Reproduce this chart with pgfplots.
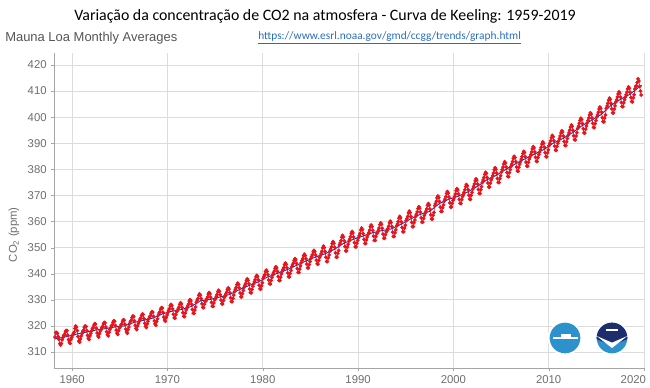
\documentclass[border=0pt]{standalone}
\usepackage{pgfplots}
\pgfplotsset{compat=1.18}
\usepackage{fontspec}
\setmainfont{Liberation Sans}
\newfontfamily\cali{Carlito}
\definecolor{ticktext}{RGB}{110,110,110}
\definecolor{gridc}{RGB}{220,220,220}
\definecolor{axisc}{RGB}{165,165,165}
\definecolor{dotred}{RGB}{230,20,28}
\definecolor{trendblue}{RGB}{45,40,165}
\definecolor{urlblue}{RGB}{40,110,190}
\definecolor{logoblue}{RGB}{45,145,205}
\definecolor{logonavy}{RGB}{30,45,110}
\begin{document}
\begin{tikzpicture}
\useasboundingbox (-40.5pt,-15pt) rectangle (447pt,276pt);
\begin{axis}[
  at={(0,0)}, anchor=south west,
  scale only axis, width=442.5pt, height=236.25pt,
  xmin=1958.1, xmax=2020, ymin=303.9, ymax=424.6,
  xtick={1960,1970,1980,1990,2000,2010},
  extra x ticks={2020},
  extra x tick style={xticklabel style={anchor=north east, xshift=5pt}},
  ytick={310,320,...,420},
  xticklabel style={/pgf/number format/1000 sep={}},
  /pgf/number format/assume math mode=true,
  ticklabel style={font=\fontsize{8.5}{10}\selectfont, text=ticktext},
  axis x line*=bottom, axis y line*=left,
  axis line style={axisc, line width=0.7pt, -},
  major tick length=2pt, tick style={axisc},
  tick align=outside,
  xtick pos=bottom, ytick pos=left,
  grid=major, major grid style={gridc, line width=0.6pt},
  clip=false,
]
\addplot[dotred, line width=0.5pt, mark=*, mark size=1.15pt, mark options={fill=dotred, draw=dotred}]
  table[row sep=\\, x expr={1958+(\coordindex+2.5)/12}, y=y] {
y\\
315.7\\ 317.5\\ 317.5\\ 317.1\\ 315.9\\ 314.9\\ 313.2\\ 312.7\\ 313.3\\ 314.7\\
315.6\\ 316.4\\ 316.7\\ 317.7\\ 318.3\\ 318.2\\ 316.5\\ 314.8\\ 313.8\\ 313.3\\ 314.8\\ 315.6\\
316.4\\ 317.0\\ 317.6\\ 319.0\\ 320.0\\ 319.6\\ 318.2\\ 315.9\\ 314.2\\ 313.8\\ 315.0\\ 316.2\\
317.2\\ 318.0\\ 318.4\\ 319.4\\ 320.0\\ 319.8\\ 318.2\\ 316.4\\ 315.3\\ 314.8\\ 316.2\\ 317.2\\
318.1\\ 318.9\\ 319.3\\ 320.3\\ 320.9\\ 320.7\\ 319.1\\ 317.3\\ 316.2\\ 315.7\\ 317.1\\ 318.1\\
318.6\\ 319.4\\ 319.8\\ 320.8\\ 321.4\\ 321.2\\ 319.6\\ 317.8\\ 316.7\\ 316.2\\ 317.6\\ 318.6\\
319.2\\ 320.0\\ 320.4\\ 321.4\\ 322.0\\ 321.8\\ 320.2\\ 318.4\\ 317.3\\ 316.8\\ 318.2\\ 319.2\\
319.6\\ 320.4\\ 320.8\\ 321.8\\ 322.4\\ 322.2\\ 320.6\\ 318.8\\ 317.7\\ 317.2\\ 318.6\\ 319.6\\
321.0\\ 321.8\\ 322.2\\ 323.2\\ 323.8\\ 323.6\\ 322.0\\ 320.2\\ 319.1\\ 318.6\\ 320.0\\ 321.0\\
321.8\\ 322.6\\ 323.0\\ 324.0\\ 324.6\\ 324.4\\ 322.8\\ 321.0\\ 319.9\\ 319.4\\ 320.8\\ 321.8\\
322.7\\ 323.5\\ 323.9\\ 324.9\\ 325.5\\ 325.3\\ 323.7\\ 321.9\\ 320.8\\ 320.3\\ 321.7\\ 322.7\\
324.2\\ 325.0\\ 325.4\\ 326.4\\ 327.0\\ 326.8\\ 325.2\\ 323.4\\ 322.3\\ 321.8\\ 323.2\\ 324.2\\
325.1\\ 325.9\\ 326.6\\ 327.7\\ 328.3\\ 327.8\\ 326.5\\ 324.5\\ 323.1\\ 323.0\\ 324.3\\ 325.5\\
325.7\\ 326.5\\ 327.2\\ 328.3\\ 328.9\\ 328.4\\ 327.1\\ 325.1\\ 323.7\\ 323.6\\ 324.9\\ 326.1\\
326.9\\ 327.7\\ 328.4\\ 329.5\\ 330.1\\ 329.6\\ 328.3\\ 326.3\\ 324.9\\ 324.8\\ 326.1\\ 327.3\\
329.1\\ 329.9\\ 330.6\\ 331.7\\ 332.3\\ 331.8\\ 330.5\\ 328.5\\ 327.1\\ 327.0\\ 328.3\\ 329.5\\
329.6\\ 330.4\\ 331.1\\ 332.2\\ 332.8\\ 332.3\\ 331.0\\ 329.0\\ 327.6\\ 327.5\\ 328.8\\ 330.0\\
330.5\\ 331.3\\ 332.0\\ 333.1\\ 333.7\\ 333.2\\ 331.9\\ 329.9\\ 328.5\\ 328.4\\ 329.7\\ 330.9\\
331.4\\ 332.2\\ 332.9\\ 334.0\\ 334.6\\ 334.1\\ 332.8\\ 330.8\\ 329.4\\ 329.3\\ 330.6\\ 331.8\\
333.2\\ 334.0\\ 334.7\\ 335.8\\ 336.4\\ 335.9\\ 334.6\\ 332.6\\ 331.2\\ 331.1\\ 332.4\\ 333.6\\
334.8\\ 335.6\\ 336.3\\ 337.4\\ 338.0\\ 337.5\\ 336.2\\ 334.2\\ 332.8\\ 332.7\\ 334.0\\ 335.2\\
336.2\\ 337.0\\ 337.7\\ 338.8\\ 339.4\\ 338.9\\ 337.6\\ 335.6\\ 334.2\\ 334.1\\ 335.4\\ 336.6\\
338.2\\ 339.0\\ 339.7\\ 340.8\\ 341.4\\ 340.9\\ 339.6\\ 337.6\\ 336.2\\ 336.1\\ 337.4\\ 338.6\\
339.5\\ 340.3\\ 341.0\\ 342.1\\ 342.7\\ 342.2\\ 340.9\\ 338.9\\ 337.5\\ 337.4\\ 338.7\\ 339.9\\
340.9\\ 341.7\\ 342.4\\ 343.5\\ 344.1\\ 343.6\\ 342.3\\ 340.3\\ 338.9\\ 338.8\\ 340.1\\ 341.3\\
342.6\\ 343.4\\ 344.1\\ 345.2\\ 345.8\\ 345.3\\ 344.0\\ 342.0\\ 340.6\\ 340.5\\ 341.8\\ 343.0\\
344.3\\ 345.1\\ 345.8\\ 346.9\\ 347.5\\ 347.0\\ 345.7\\ 343.7\\ 342.3\\ 342.2\\ 343.5\\ 344.7\\
345.8\\ 346.6\\ 347.3\\ 348.4\\ 349.0\\ 348.5\\ 347.2\\ 345.2\\ 343.8\\ 343.7\\ 345.0\\ 346.2\\
346.9\\ 347.7\\ 348.6\\ 349.9\\ 350.6\\ 350.0\\ 348.5\\ 346.3\\ 344.7\\ 344.7\\ 346.1\\ 347.2\\
348.6\\ 349.4\\ 350.3\\ 351.6\\ 352.3\\ 351.7\\ 350.2\\ 348.0\\ 346.4\\ 346.4\\ 347.8\\ 348.9\\
351.0\\ 351.8\\ 352.7\\ 354.0\\ 354.7\\ 354.1\\ 352.6\\ 350.4\\ 348.8\\ 348.8\\ 350.2\\ 351.3\\
352.5\\ 353.3\\ 354.2\\ 355.5\\ 356.2\\ 355.6\\ 354.1\\ 351.9\\ 350.3\\ 350.3\\ 351.7\\ 352.8\\
353.8\\ 354.6\\ 355.5\\ 356.8\\ 357.5\\ 356.9\\ 355.4\\ 353.2\\ 351.6\\ 351.6\\ 353.0\\ 354.1\\
355.0\\ 355.8\\ 356.7\\ 358.0\\ 358.7\\ 358.1\\ 356.6\\ 354.4\\ 352.8\\ 352.8\\ 354.2\\ 355.3\\
355.8\\ 356.6\\ 357.5\\ 358.8\\ 359.5\\ 358.9\\ 357.4\\ 355.2\\ 353.6\\ 353.6\\ 355.0\\ 356.1\\
356.5\\ 357.3\\ 358.2\\ 359.5\\ 360.2\\ 359.6\\ 358.1\\ 355.9\\ 354.3\\ 354.3\\ 355.7\\ 356.8\\
358.3\\ 359.1\\ 360.0\\ 361.3\\ 362.0\\ 361.4\\ 359.9\\ 357.7\\ 356.1\\ 356.1\\ 357.5\\ 358.6\\
360.3\\ 361.1\\ 362.0\\ 363.3\\ 364.0\\ 363.4\\ 361.9\\ 359.7\\ 358.1\\ 358.1\\ 359.5\\ 360.6\\
362.0\\ 362.8\\ 363.7\\ 365.0\\ 365.7\\ 365.1\\ 363.6\\ 361.4\\ 359.8\\ 359.8\\ 361.2\\ 362.3\\
363.2\\ 364.0\\ 364.9\\ 366.2\\ 366.9\\ 366.3\\ 364.8\\ 362.6\\ 361.0\\ 361.0\\ 362.4\\ 363.5\\
366.1\\ 366.9\\ 367.8\\ 369.1\\ 369.8\\ 369.2\\ 367.7\\ 365.5\\ 363.9\\ 363.9\\ 365.3\\ 366.4\\
367.8\\ 368.6\\ 369.5\\ 370.8\\ 371.5\\ 370.9\\ 369.4\\ 367.2\\ 365.6\\ 365.6\\ 367.0\\ 368.1\\
368.7\\ 369.6\\ 370.6\\ 371.8\\ 372.6\\ 372.1\\ 370.6\\ 368.5\\ 367.0\\ 366.9\\ 368.4\\ 369.6\\
370.3\\ 371.2\\ 372.2\\ 373.4\\ 374.2\\ 373.7\\ 372.2\\ 370.1\\ 368.6\\ 368.5\\ 370.0\\ 371.2\\
372.5\\ 373.4\\ 374.4\\ 375.6\\ 376.4\\ 375.9\\ 374.4\\ 372.3\\ 370.8\\ 370.7\\ 372.2\\ 373.4\\
375.0\\ 375.9\\ 376.9\\ 378.1\\ 378.9\\ 378.4\\ 376.9\\ 374.8\\ 373.3\\ 373.2\\ 374.7\\ 375.9\\
376.7\\ 377.6\\ 378.6\\ 379.8\\ 380.6\\ 380.1\\ 378.6\\ 376.5\\ 375.0\\ 374.9\\ 376.4\\ 377.6\\
379.0\\ 379.9\\ 380.9\\ 382.1\\ 382.9\\ 382.4\\ 380.9\\ 378.8\\ 377.3\\ 377.2\\ 378.7\\ 379.9\\
381.1\\ 382.0\\ 383.0\\ 384.2\\ 385.0\\ 384.5\\ 383.0\\ 380.9\\ 379.4\\ 379.3\\ 380.8\\ 382.0\\
383.0\\ 383.9\\ 384.9\\ 386.1\\ 386.9\\ 386.4\\ 384.9\\ 382.8\\ 381.3\\ 381.2\\ 382.7\\ 383.9\\
384.8\\ 385.7\\ 386.7\\ 387.9\\ 388.7\\ 388.2\\ 386.7\\ 384.6\\ 383.1\\ 383.0\\ 384.5\\ 385.7\\
386.6\\ 387.5\\ 388.5\\ 389.7\\ 390.5\\ 390.0\\ 388.5\\ 386.4\\ 384.9\\ 384.8\\ 386.3\\ 387.5\\
389.1\\ 390.0\\ 391.0\\ 392.2\\ 393.0\\ 392.5\\ 391.0\\ 388.9\\ 387.4\\ 387.3\\ 388.8\\ 390.0\\
390.9\\ 391.8\\ 392.8\\ 394.0\\ 394.8\\ 394.3\\ 392.8\\ 390.7\\ 389.2\\ 389.1\\ 390.6\\ 391.8\\
393.1\\ 394.0\\ 395.0\\ 396.2\\ 397.0\\ 396.5\\ 395.0\\ 392.9\\ 391.4\\ 391.3\\ 392.8\\ 394.0\\
395.7\\ 396.6\\ 397.6\\ 398.8\\ 399.6\\ 399.1\\ 397.6\\ 395.5\\ 394.0\\ 393.9\\ 395.4\\ 396.6\\
397.8\\ 398.7\\ 399.7\\ 400.9\\ 401.7\\ 401.2\\ 399.7\\ 397.6\\ 396.1\\ 396.0\\ 397.5\\ 398.7\\
400.0\\ 400.9\\ 401.9\\ 403.1\\ 403.9\\ 403.4\\ 401.9\\ 399.8\\ 398.3\\ 398.2\\ 399.7\\ 400.9\\
403.4\\ 404.3\\ 405.3\\ 406.5\\ 407.3\\ 406.8\\ 405.3\\ 403.2\\ 401.7\\ 401.6\\ 403.1\\ 404.3\\
405.8\\ 406.7\\ 407.7\\ 408.9\\ 409.7\\ 409.2\\ 407.7\\ 405.6\\ 404.1\\ 404.0\\ 405.5\\ 406.7\\
407.7\\ 408.6\\ 409.6\\ 410.8\\ 411.6\\ 411.1\\ 409.6\\ 407.5\\ 406.0\\ 405.9\\ 407.4\\ 408.6\\
410.8\\ 411.8\\ 412.0\\ 413.3\\ 414.7\\ 413.9\\ 411.8\\ 410.0\\ 408.5\\
};
\addplot[trendblue, line width=0.7pt, no marks] coordinates {
(1958.2,315.0) (1958.5,315.3) (1959.5,315.98) (1960.5,316.91) (1961.5,317.64) (1962.5,318.45)
(1963.5,318.99) (1964.5,319.62) (1965.5,320.04) (1966.5,321.37) (1967.5,322.18)
(1968.5,323.05) (1969.5,324.62) (1970.5,325.68) (1971.5,326.32) (1972.5,327.46)
(1973.5,329.68) (1974.5,330.19) (1975.5,331.12) (1976.5,332.03) (1977.5,333.84)
(1978.5,335.41) (1979.5,336.84) (1980.5,338.76) (1981.5,340.12) (1982.5,341.48)
(1983.5,343.15) (1984.5,344.85) (1985.5,346.35) (1986.5,347.61) (1987.5,349.31)
(1988.5,351.69) (1989.5,353.20) (1990.5,354.45) (1991.5,355.70) (1992.5,356.54)
(1993.5,357.21) (1994.5,358.96) (1995.5,360.97) (1996.5,362.74) (1997.5,363.88)
(1998.5,366.84) (1999.5,368.54) (2000.5,369.71) (2001.5,371.32) (2002.5,373.45)
(2003.5,375.98) (2004.5,377.70) (2005.5,379.98) (2006.5,382.09) (2007.5,384.02)
(2008.5,385.83) (2009.5,387.64) (2010.5,390.10) (2011.5,391.85) (2012.5,394.06)
(2013.5,396.74) (2014.5,398.81) (2015.5,401.01) (2016.5,404.41) (2017.5,406.76)
(2018.5,408.72) (2019.5,411.66) (2019.75,412.2)
};
\end{axis}
% y label
\node[rotate=90, text=ticktext, font=\fontsize{8.5}{10}\selectfont] at (-30pt,100pt) {CO\textsubscript{2} (ppm)};
% title and header texts
\node[anchor=center] at (203.25pt,264pt) {\resizebox{376pt}{!}{\cali Variação da concentração de CO2 na atmosfera - Curva de Keeling: 1959-2019}};
\node[anchor=west, inner sep=0pt, text={rgb,255:red,85;green,85;blue,85}] at (-36.75pt,247.5pt) {\resizebox{129pt}{!}{Mauna Loa Monthly Averages}};
\node[anchor=west, inner sep=0pt, text=urlblue] at (153pt,247.5pt) {\resizebox{197pt}{!}{\cali\underline{https://www.esrl.noaa.gov/gmd/ccgg/trends/graph.html}}};
% logos (decoration)
\fill[white] (383.25pt,22.5pt) circle (13pt);
\fill[logoblue] (383.25pt,22.5pt) circle (11.5pt);
\fill[white] (374pt,22pt) rectangle (393pt,23.2pt);
\fill[white] (380pt,23pt) rectangle (388pt,25.5pt);
\fill[white] (418.5pt,22.5pt) circle (13pt);
\fill[logoblue] (418.5pt,22.5pt) circle (11.5pt);
\begin{scope}
\clip (418.5pt,22.5pt) circle (11.5pt);
\fill[logonavy] (406pt,22pt) -- (418.5pt,17pt) -- (431pt,22pt) -- (431pt,35pt) -- (406pt,35pt) -- cycle;
\fill[white] (407pt,24pt) -- (418.5pt,15pt) -- (430pt,24pt) -- (418.5pt,19pt) -- cycle;
\end{scope}
\fill[white] (414pt,27.5pt) rectangle (423pt,29.5pt);
\end{tikzpicture}
\end{document}
